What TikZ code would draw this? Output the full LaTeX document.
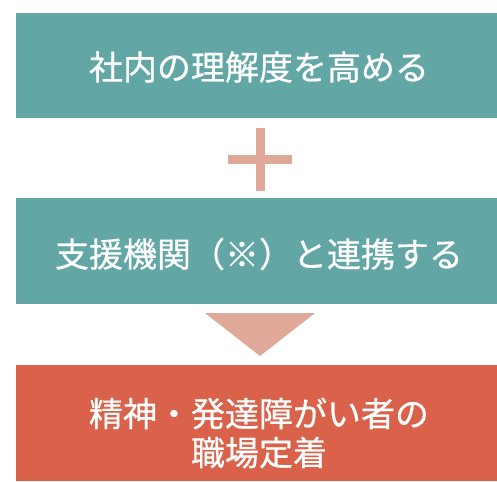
\documentclass[tikz,border=0pt]{standalone}
\usepackage{fontspec}
\newfontfamily\jp[FakeBold=0.6]{Noto Sans CJK JP}
\definecolor{teal1}{RGB}{98,166,166}
\definecolor{red1}{RGB}{218,98,74}
\definecolor{pink1}{RGB}{224,168,152}
\begin{document}
\begin{tikzpicture}[x=1pt,y=-1pt,
  box/.style={fill=#1,draw=none},
  lbl/.style={text=white,font=\jp\fontsize{34}{39}\selectfont,align=center,inner sep=0pt},
  sym/.style={fill=pink1,draw=none}]
\useasboundingbox (0,0) rectangle (497,481);
\fill[white] (0,0) rectangle (497,481);
% boxes
\path[box=teal1] (16,13) rectangle (497,118);
\path[box=teal1] (16,198) rectangle (497,304);
\path[box=red1] (16,365) rectangle (497,481);
% plus
\path[sym] (256,128) rectangle (265,191);
\path[sym] (228,155) rectangle (292,164);
% triangle
\path[sym] (205,313) -- (315,313) -- (260,356) -- cycle;
% labels
\node[lbl] (t1) at (259,67) {社内の理解度を高める};
\node[lbl] (t2) at (259,254) {支援機関（※）と連携する};
\node[lbl] (t3) at (259,433) {精神・発達障がい者の\\職場定着};
\end{tikzpicture}
\end{document}
